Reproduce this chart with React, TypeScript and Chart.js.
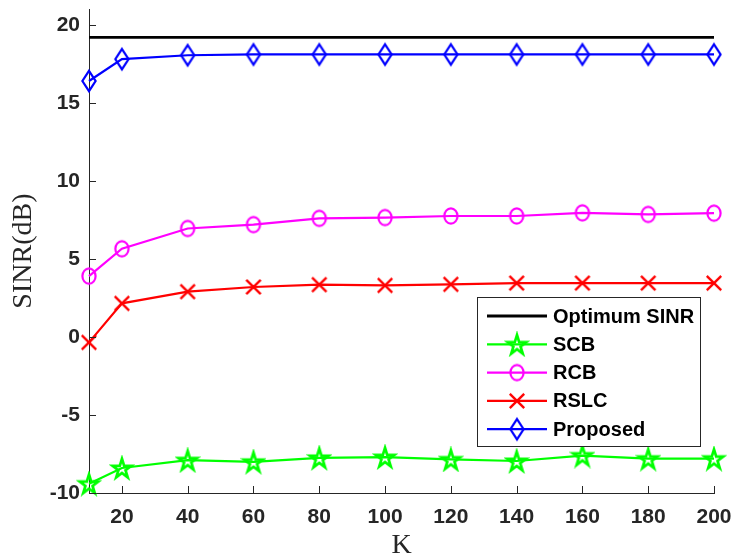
import React, { useEffect, useRef } from "react";
import { Chart, registerables } from "chart.js";

Chart.register(...registerables);

// Number of training snapshots K and output SINR (dB) of each beamformer
const kValues = [10, 20, 40, 60, 80, 100, 120, 140, 160, 180, 200];
const optimumSinr = [19.2, 19.2, 19.2, 19.2, 19.2, 19.2, 19.2, 19.2, 19.2, 19.2, 19.2];
const scbSinr = [-9.4, -8.4, -7.9, -8.0, -7.75, -7.7, -7.85, -7.95, -7.6, -7.8, -7.8];
const rcbSinr = [3.9, 5.65, 6.95, 7.2, 7.6, 7.65, 7.75, 7.75, 7.95, 7.85, 7.93];
const rslcSinr = [-0.35, 2.15, 2.9, 3.2, 3.35, 3.3, 3.37, 3.45, 3.45, 3.45, 3.45];
const proposedSinr = [16.4, 17.8, 18.05, 18.1, 18.1, 18.1, 18.1, 18.1, 18.1, 18.1, 18.1];

const seriesLabels = ["Optimum SINR", "SCB", "RCB", "RSLC", "Proposed"];
const xTickValues = [20, 40, 60, 80, 100, 120, 140, 160, 180, 200];
const yTickValues = [-10, -5, 0, 5, 10, 15, 20];

const AXIS_COLOR = "#262626";

function makeMarker(w: number, h: number, draw: (ctx: CanvasRenderingContext2D, cx: number, cy: number) => void) {
  const c = document.createElement("canvas");
  c.width = w;
  c.height = h;
  const ctx = c.getContext("2d")!;
  draw(ctx, w / 2, h / 2);
  return c;
}

function starMarker(color: string) {
  return makeMarker(26, 26, (ctx, cx, cy) => {
    const R = 9.8;
    const r = R * 0.382;
    const sy = 1.05;
    const oy = cy + 1;
    ctx.beginPath();
    for (let i = 0; i < 10; i++) {
      const rad = i % 2 === 0 ? R : r;
      const a = -Math.PI / 2 + (i * Math.PI) / 5;
      const x = cx + rad * Math.cos(a);
      const y = oy + rad * Math.sin(a) * sy;
      if (i === 0) ctx.moveTo(x, y);
      else ctx.lineTo(x, y);
    }
    ctx.closePath();
    ctx.strokeStyle = color;
    ctx.lineWidth = 2.7;
    ctx.lineJoin = "miter";
    ctx.stroke();
  });
}

function circleMarker(color: string) {
  return makeMarker(20, 22, (ctx, cx, cy) => {
    ctx.beginPath();
    ctx.ellipse(cx, cy, 6.6, 7.6, 0, 0, Math.PI * 2);
    ctx.strokeStyle = color;
    ctx.lineWidth = 2.2;
    ctx.stroke();
  });
}

function crossMarker(color: string) {
  return makeMarker(20, 20, (ctx, cx, cy) => {
    const d = 7.2;
    ctx.beginPath();
    ctx.moveTo(cx - d, cy - d);
    ctx.lineTo(cx + d, cy + d);
    ctx.moveTo(cx + d, cy - d);
    ctx.lineTo(cx - d, cy + d);
    ctx.strokeStyle = color;
    ctx.lineWidth = 2.4;
    ctx.stroke();
  });
}

function diamondMarker(color: string) {
  return makeMarker(20, 28, (ctx, cx, cy) => {
    const hw = 6.6;
    const hh = 10.2;
    ctx.beginPath();
    ctx.moveTo(cx, cy - hh);
    ctx.lineTo(cx + hw, cy);
    ctx.lineTo(cx, cy + hh);
    ctx.lineTo(cx - hw, cy);
    ctx.closePath();
    ctx.strokeStyle = color;
    ctx.lineWidth = 2.2;
    ctx.stroke();
  });
}

// Tick marks drawn inside the axes, MATLAB style
const innerTicks = {
  id: "innerTicks",
  afterDatasetsDraw(chart: any) {
    const { ctx, chartArea, scales } = chart;
    ctx.save();
    ctx.strokeStyle = AXIS_COLOR;
    ctx.lineWidth = 1;
    for (const v of xTickValues) {
      const x = Math.round(scales.x.getPixelForValue(v)) + 0.5;
      ctx.beginPath();
      ctx.moveTo(x, chartArea.bottom);
      ctx.lineTo(x, chartArea.bottom - 7);
      ctx.stroke();
    }
    for (const v of yTickValues) {
      const y = Math.round(scales.y.getPixelForValue(v)) + 0.5;
      ctx.beginPath();
      ctx.moveTo(chartArea.left, y);
      ctx.lineTo(chartArea.left + 7, y);
      ctx.stroke();
    }
    ctx.restore();
  },
};

// Boxed legend in the lower right of the plot area
const boxedLegend = {
  id: "boxedLegend",
  afterDraw(chart: any) {
    const { ctx, chartArea } = chart;
    const w = 223;
    const h = 149;
    const right = chartArea.right - 14;
    const bottom = chartArea.bottom - 47;
    const left = right - w;
    const top = bottom - h;
    ctx.save();
    ctx.fillStyle = "#ffffff";
    ctx.fillRect(left, top, w, h);
    ctx.strokeStyle = AXIS_COLOR;
    ctx.lineWidth = 1;
    ctx.strokeRect(left + 0.5, top + 0.5, w, h);
    chart.data.datasets.forEach((ds: any, i: number) => {
      const y = top + 19 + i * 28.3;
      ctx.beginPath();
      ctx.moveTo(left + 10, y);
      ctx.lineTo(left + 70, y);
      ctx.strokeStyle = ds.borderColor;
      ctx.lineWidth = ds.borderWidth;
      ctx.stroke();
      const ps = ds.pointStyle;
      if (ps && typeof ps === "object") {
        ctx.drawImage(ps, left + 40 - ps.width / 2, y - ps.height / 2);
      }
      ctx.fillStyle = "#000000";
      ctx.font = "bold 20px 'Liberation Sans', Arial, sans-serif";
      ctx.textBaseline = "middle";
      ctx.textAlign = "left";
      ctx.fillText(ds.label, left + 76, y + 1);
    });
    ctx.restore();
  },
};

// Keep the plot box fixed: no extra room reserved for edge tick labels
function fixScale(size: "width" | "height", value: number) {
  return (scale: any) => {
    scale[size] = value;
    scale.paddingTop = 0;
    scale.paddingBottom = 0;
    scale.paddingLeft = 0;
    scale.paddingRight = 0;
  };
}

export default function App() {
  const canvasRef = useRef<HTMLCanvasElement | null>(null);

  useEffect(() => {
    document.body.style.margin = "0";
    const canvas = canvasRef.current;
    if (!canvas) return;

    const series = [optimumSinr, scbSinr, rcbSinr, rslcSinr, proposedSinr];
    const colors = ["#000000", "#00ff00", "#ff00ff", "#ff0000", "#0000ff"];
    const widths = [2.8, 2.2, 2.2, 2.2, 2.2];
    const markers: any[] = [
      false,
      starMarker("#00ff00"),
      circleMarker("#ff00ff"),
      crossMarker("#ff0000"),
      diamondMarker("#0000ff"),
    ];

    const datasets = series.map((vals, i) => ({
      label: seriesLabels[i],
      data: kValues.map((k, j) => ({ x: k, y: vals[j] })),
      borderColor: colors[i],
      backgroundColor: colors[i],
      borderWidth: widths[i],
      pointStyle: markers[i],
      pointRadius: markers[i] ? 7 : 0,
      pointHoverRadius: markers[i] ? 7 : 0,
      tension: 0,
      fill: false,
      clip: false as any,
    }));

    const tickFont = { family: "'Liberation Sans', Arial, sans-serif", size: 21, weight: "bold" as any };
    const titleFont = { family: "'Liberation Serif', 'Times New Roman', serif", size: 28, weight: "normal" as any, lineHeight: 1 };

    const chart = new Chart(canvas, {
      type: "line",
      data: { datasets },
      plugins: [innerTicks, boxedLegend],
      options: {
        animation: false,
        responsive: false,
        events: [],
        layout: { padding: { left: 0, right: 23, top: 5, bottom: 0 } },
        plugins: {
          legend: { display: false },
          tooltip: { enabled: false },
        },
        scales: {
          x: {
            type: "linear",
            min: 10,
            max: 200,
            afterBuildTicks: (scale: any) => {
              scale.ticks = xTickValues.map((v) => ({ value: v }));
            },
            afterFit: fixScale("height", 67),
            grid: { display: false, drawTicks: false },
            border: { display: true, color: AXIS_COLOR, width: 1 },
            ticks: {
              color: AXIS_COLOR,
              font: tickFont,
              padding: 12,
              maxRotation: 0,
              autoSkip: false,
              callback: (v: any) => String(v),
            },
            title: {
              display: true,
              text: "K",
              color: AXIS_COLOR,
              font: titleFont,
              padding: { top: 0, bottom: 0 },
            },
          },
          y: {
            type: "linear",
            min: -10,
            max: 21,
            afterBuildTicks: (scale: any) => {
              scale.ticks = yTickValues.map((v) => ({ value: v }));
            },
            afterFit: fixScale("width", 89),
            grid: { display: false, drawTicks: false },
            border: { display: true, color: AXIS_COLOR, width: 1 },
            ticks: {
              color: AXIS_COLOR,
              font: tickFont,
              padding: 9,
              autoSkip: false,
              callback: (v: any) => String(v),
            },
            title: {
              display: true,
              text: "SINR(dB)",
              color: AXIS_COLOR,
              font: titleFont,
              padding: { top: 10, bottom: 0 },
            },
          },
        },
      },
    });

    return () => chart.destroy();
  }, []);

  return (
    <div style={{ width: 737, height: 560 }}>
      <canvas ref={canvasRef} width={737} height={560} />
    </div>
  );
}
